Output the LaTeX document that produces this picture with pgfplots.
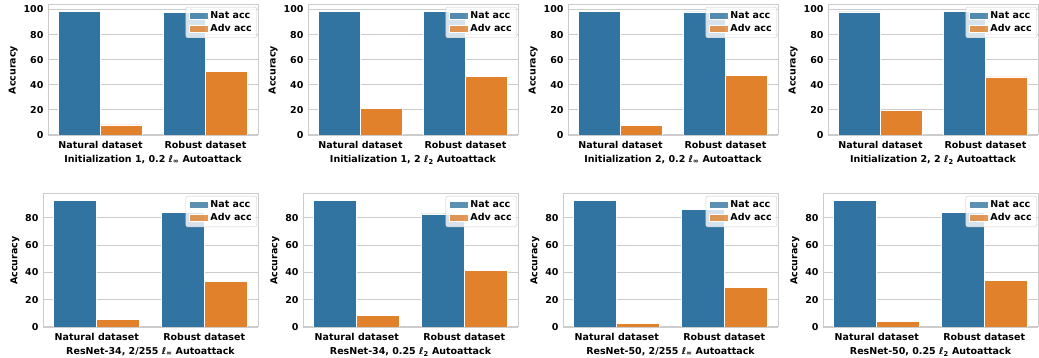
\documentclass[border=0pt]{standalone}
\usepackage{fontspec}
\setmainfont{DejaVu Sans}
\usepackage{pgfplots}
\pgfplotsset{compat=1.18}
\definecolor{sbblue}{HTML}{3274A1}
\definecolor{sborange}{HTML}{E1812C}
\definecolor{spine}{HTML}{CCCCCC}
\newcommand{\linf}{ℓ\textsubscript{∞}}
\newcommand{\ltwo}{ℓ\textsubscript{2}}
\newcommand{\ff}{\fontsize{9.5}{11.5}\selectfont\bfseries}
\pgfplotsset{
  panel/.style={
    scale only axis, anchor=south west,
    xmin=-0.5, xmax=1.5, ymin=0,
    xtick={0,1}, xticklabels={Natural dataset, Robust dataset},
    ymajorgrids, major grid style={spine, line width=0.8pt},
    axis line style={spine, line width=1pt},
    major tick length=0pt,
    /pgf/number format/assume math mode=true,
    tick label style={font=\ff},
    xticklabel style={yshift=-3pt},
    yticklabel style={xshift=-1pt},
    label style={font=\ff},
    ylabel={Accuracy},
    xlabel style={yshift=0pt},
    ylabel style={yshift=-1pt},
    legend style={at={(0.995,0.985)}, anchor=north east, fill=white, fill opacity=0.8, text opacity=1,
      draw=spine, rounded corners=2pt, font=\ff,
      row sep=1.5pt, inner xsep=3.5pt, inner ysep=3pt, nodes={inner sep=1.5pt}},
    legend cell align=left,
    legend image code/.code={\fill[##1, sharp corners] (0em,-0.3em) rectangle (1.9em,0.4em);},
  },
  toprow/.style={panel, width=210pt, height=130pt, ymax=103.6, ytick={0,20,40,60,80,100}},
  botrow/.style={panel, width=215pt, height=133pt, ymax=97.3, ytick={0,20,40,60,80}},
  natbar/.style={ybar, fill=sbblue, draw=white, line width=0.6pt, bar width=0.4, bar shift=-0.2},
  advbar/.style={ybar, fill=sborange, draw=white, line width=0.6pt, bar width=0.4, bar shift=0.2},
}
\begin{document}
\begin{tikzpicture}[x=1pt,y=1pt]
\useasboundingbox (0,0) rectangle (1039,358);
% Row 1
\begin{axis}[toprow, at={(48pt,223pt)}, xlabel={Initialization 1, 0.2 \linf{} Autoattack}]
\addplot[natbar] coordinates {(0,98.6) (1,97.9)};
\addplot[advbar] coordinates {(0,8.0) (1,50.8)};
\legend{Nat acc, Adv acc}
\end{axis}
\begin{axis}[toprow, at={(308pt,223pt)}, xlabel={Initialization 1, 2 \ltwo{} Autoattack}]
\addplot[natbar] coordinates {(0,98.7) (1,98.6)};
\addplot[advbar] coordinates {(0,21.3) (1,46.4)};
\legend{Nat acc, Adv acc}
\end{axis}
\begin{axis}[toprow, at={(568pt,223pt)}, xlabel={Initialization 2, 0.2 \linf{} Autoattack}]
\addplot[natbar] coordinates {(0,98.5) (1,98.1)};
\addplot[advbar] coordinates {(0,7.5) (1,47.3)};
\legend{Nat acc, Adv acc}
\end{axis}
\begin{axis}[toprow, at={(828pt,223pt)}, xlabel={Initialization 2, 2 \ltwo{} Autoattack}]
\addplot[natbar] coordinates {(0,98.1) (1,98.6)};
\addplot[advbar] coordinates {(0,19.9) (1,46.3)};
\legend{Nat acc, Adv acc}
\end{axis}
% Row 2
\begin{axis}[botrow, at={(43pt,31pt)}, xlabel={ResNet-34, 2/255 \linf{} Autoattack}]
\addplot[natbar] coordinates {(0,92.7) (1,83.7)};
\addplot[advbar] coordinates {(0,5.4) (1,33.5)};
\legend{Nat acc, Adv acc}
\end{axis}
\begin{axis}[botrow, at={(303pt,31pt)}, xlabel={ResNet-34, 0.25 \ltwo{} Autoattack}]
\addplot[natbar] coordinates {(0,92.7) (1,82.7)};
\addplot[advbar] coordinates {(0,8.3) (1,41.3)};
\legend{Nat acc, Adv acc}
\end{axis}
\begin{axis}[botrow, at={(563pt,31pt)}, xlabel={ResNet-50, 2/255 \linf{} Autoattack}]
\addplot[natbar] coordinates {(0,92.7) (1,86.1)};
\addplot[advbar] coordinates {(0,2.6) (1,29.1)};
\legend{Nat acc, Adv acc}
\end{axis}
\begin{axis}[botrow, at={(823pt,31pt)}, xlabel={ResNet-50, 0.25 \ltwo{} Autoattack}]
\addplot[natbar] coordinates {(0,92.7) (1,83.7)};
\addplot[advbar] coordinates {(0,4.3) (1,34.3)};
\legend{Nat acc, Adv acc}
\end{axis}
\end{tikzpicture}
\end{document}
